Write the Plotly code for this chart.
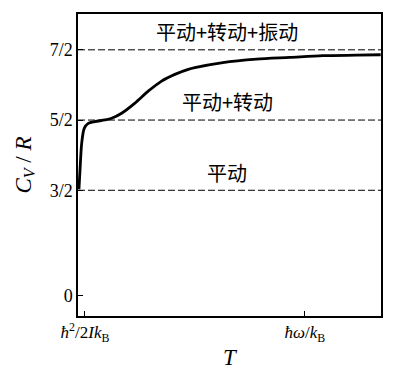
import plotly.graph_objects as go

# data (T in arbitrary units: 0 = ħ²/2Ik_B, 3 = ħω/k_B ; Cv/R)
T_vals = [-0.082, -0.068, -0.045, -0.010, 0.045, 0.136, 0.273, 0.364, 0.500, 0.682,
          0.863, 1.046, 1.227, 1.409, 1.5, 1.882, 2.341, 2.795, 3.245, 3.705, 4.036]
Cv_vals = [1.515, 1.779, 2.165, 2.381, 2.453, 2.478, 2.501, 2.525, 2.597, 2.742,
           2.911, 3.055, 3.150, 3.222, 3.247, 3.319, 3.367, 3.391, 3.416, 3.424, 3.430]

levels = [1.5, 2.5, 3.5]
level_labels = ["平动", "平动+转动", "平动+转动+振动"]

y_tickvals = [0, 1.5, 2.5, 3.5]
y_ticktext = ["0", "3/2", "5/2", "7/2"]
x_tickvals = [0, 3]
x_ticktext = ["<i>ħ</i><sup>2</sup>/2<i>Ik</i><sub>B</sub>", "<i>ħω</i>/<i>k</i><sub>B</sub>"]

serif = "Liberation Serif, DejaVu Serif, serif"
cjk = "Noto Sans CJK SC"

fig = go.Figure()

for lv in levels:
    fig.add_hline(y=lv, line=dict(color="black", width=1, dash="7px,3px"), layer="below")

fig.add_trace(go.Scatter(x=T_vals, y=Cv_vals, mode="lines",
                         line=dict(color="black", width=2.8, shape="spline", smoothing=0.8),
                         hoverinfo="skip", showlegend=False))

for lv, lab in zip(levels, level_labels):
    fig.add_annotation(x=1.94, y=lv + 0.26, text=lab, showarrow=False,
                       font=dict(family=cjk, size=20, color="black"))

# page body has an 8px margin, so the figure is sized to fit the window
fig.update_layout(
    width=394, height=362,
    margin=dict(l=70, r=21, t=4, b=52),
    plot_bgcolor="white", paper_bgcolor="white",
    showlegend=False,
)
fig.update_xaxes(range=[-0.095, 4.04], tickvals=x_tickvals, ticktext=x_ticktext,
                 ticks="inside", ticklen=5, tickwidth=1, tickcolor="black",
                 showline=True, linecolor="black", linewidth=1.5, mirror=True,
                 showgrid=False, zeroline=False,
                 tickfont=dict(family=serif, size=17, color="black"),
                 title=dict(text="<i>T</i>", font=dict(family=serif, size=23, color="black"),
                            standoff=5))
fig.update_yaxes(range=[-0.29, 4.01], tickvals=y_tickvals, ticktext=y_ticktext,
                 ticks="inside", ticklen=5, tickwidth=1, tickcolor="black",
                 showline=True, linecolor="black", linewidth=1.5, mirror=True,
                 showgrid=False, zeroline=False,
                 tickfont=dict(family=serif, size=18, color="black"),
                 title=dict(text="<i>C<sub>V</sub></i> / <i>R</i>",
                            font=dict(family=serif, size=23, color="black"), standoff=12))

fig.write_html("out.html")
